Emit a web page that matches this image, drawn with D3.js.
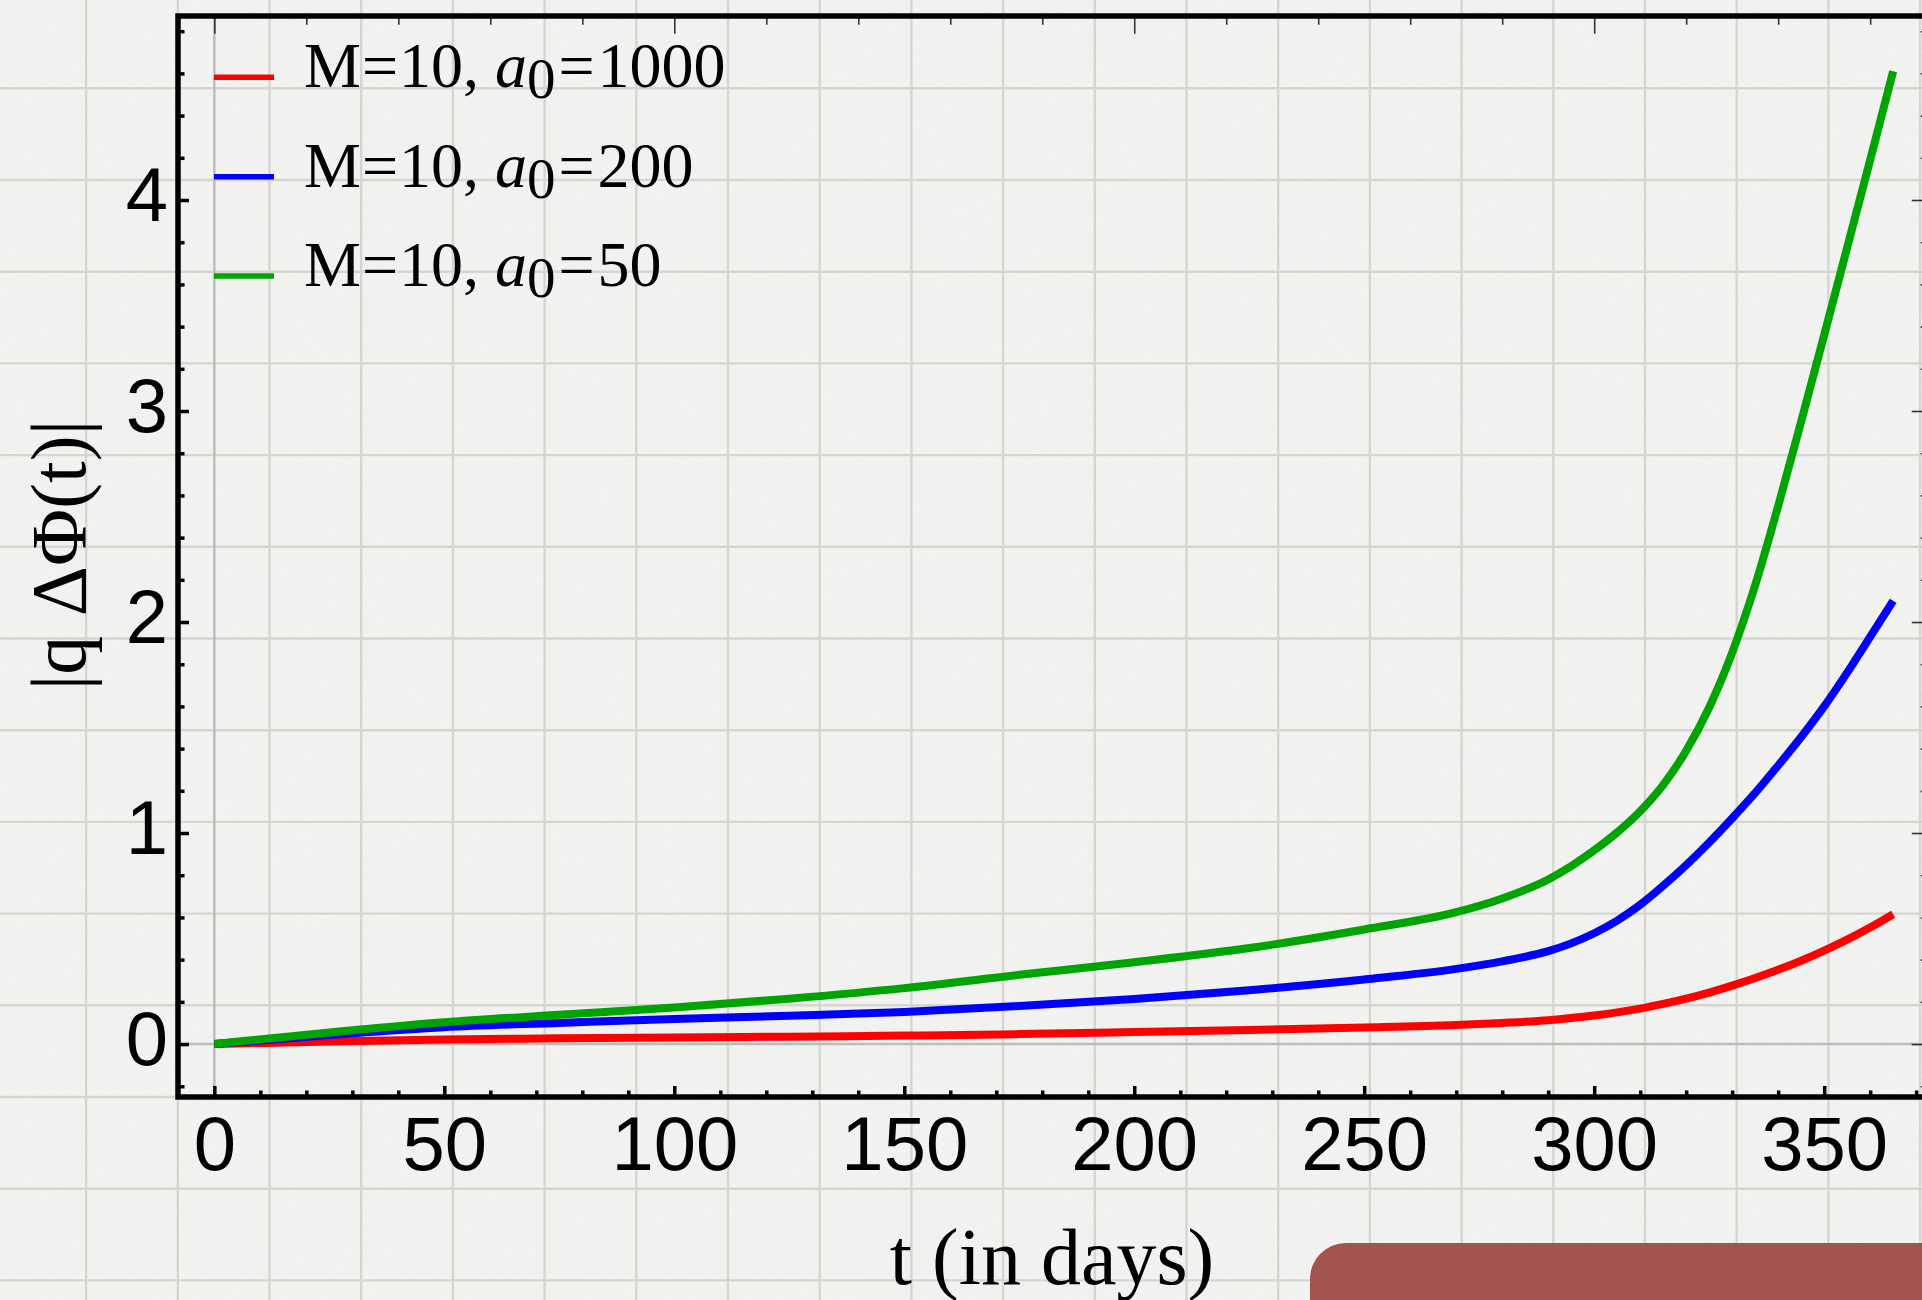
<!DOCTYPE html>
<html>
<head>
<meta charset="utf-8">
<script src="https://cdn.jsdelivr.net/npm/d3@7"></script>
<style>
  html, body { margin: 0; padding: 0; background: #f2f2f0; overflow: hidden; }
  svg { display: block; }
</style>
</head>
<body>
<svg id="chart" width="1922" height="1300"></svg>
<script>
// ---------------- data ----------------
const tDays = [0, 25, 50, 75, 100, 125, 150, 175, 200, 225, 250, 270, 280, 290, 295, 300, 305, 310, 315, 320, 325, 330, 335, 340, 345, 350, 355, 360, 365];

const valuesA1000 = [0, 0.012, 0.021, 0.027, 0.031, 0.035, 0.040, 0.047, 0.057, 0.067, 0.078, 0.090, 0.100, 0.113, 0.123, 0.135, 0.150, 0.168, 0.190, 0.215, 0.244, 0.277, 0.313, 0.352, 0.395, 0.443, 0.495, 0.552, 0.615];
const valuesA200  = [0, 0.043, 0.080, 0.100, 0.119, 0.134, 0.152, 0.180, 0.213, 0.255, 0.306, 0.356, 0.392, 0.440, 0.477, 0.525, 0.585, 0.660, 0.750, 0.848, 0.955, 1.070, 1.190, 1.320, 1.455, 1.600, 1.760, 1.930, 2.100];
const valuesA50   = [0, 0.055, 0.103, 0.139, 0.173, 0.215, 0.265, 0.328, 0.388, 0.455, 0.543, 0.625, 0.690, 0.780, 0.843, 0.918, 1.003, 1.103, 1.228, 1.390, 1.595, 1.855, 2.175, 2.550, 2.950, 3.360, 3.775, 4.190, 4.610];

const seriesNames  = ["a0=1000", "a0=200", "a0=50"];
const seriesM      = ["10", "10", "10"];
const seriesA0     = ["1000", "200", "50"];
const seriesColors = ["#ff0000", "#0000ff", "#00a400"];

const xMajorTicks = [0, 50, 100, 150, 200, 250, 300, 350];
const xTickLabels = ["0", "50", "100", "150", "200", "250", "300", "350"];
const xMinorTicks = [10, 20, 30, 40, 60, 70, 80, 90, 110, 120, 130, 140, 160, 170, 180, 190, 210, 220, 230, 240, 260, 270, 280, 290, 310, 320, 330, 340, 360, 370];
const topMajorTicks = [0, 100, 200, 300];
const topMinorTicks = [20, 40, 60, 80, 120, 140, 160, 180, 220, 240, 260, 280, 320, 340, 360];

const yMajorTicks = [0, 1, 2, 3, 4];
const yTickLabels = ["0", "1", "2", "3", "4"];
const yMinorTicks = [-0.2, 0.2, 0.4, 0.6, 0.8, 1.2, 1.4, 1.6, 1.8, 2.2, 2.4, 2.6, 2.8, 3.2, 3.4, 3.6, 3.8, 4.2, 4.4, 4.6, 4.8];

const xTitle = "t (in days)";
const yTitle = "|q \u0394\u03A6(t)|";

// ---------------- setup ----------------
const W = 1922, H = 1300;
const svg = d3.select("#chart");
const SANS = "'Liberation Sans', Arial, Helvetica, sans-serif";
const SERIF = "'Liberation Serif', 'Times New Roman', Times, serif";

const x = d3.scaleLinear().domain([-7.9, 372.9]).range([178, 1929.5]);
const y = d3.scaleLinear().domain([-0.251, 4.872]).range([1097, 16]);

const [fx0, fx1] = x.range();
const [fy1, fy0] = y.range(); // fy1 bottom, fy0 top

// ---------------- paper background ----------------
const defs = svg.append("defs");
const f = defs.append("filter").attr("id", "paperNoise").attr("x", 0).attr("y", 0).attr("width", "100%").attr("height", "100%");
f.append("feTurbulence").attr("type", "fractalNoise").attr("baseFrequency", 0.75).attr("numOctaves", 2).attr("seed", 7);
f.append("feColorMatrix").attr("type", "matrix")
  .attr("values", "1 0 0 0 0  1 0 0 0 0  1 0 0 0 0  0 0 0 0 0.06");

svg.append("rect").attr("width", W).attr("height", H).attr("fill", "#f5f5f3");
svg.append("rect").attr("width", W).attr("height", H).attr("filter", "url(#paperNoise)");

const cell = 91.7;
const gridX = d3.range(-2, 24).map(k => 177.8 + k * cell).filter(v => v > -5 && v < W + 5);
const gridY = d3.range(0, 16).map(k => -3.4 + k * cell).filter(v => v > -5 && v < H + 5);
const paper = svg.append("g").attr("stroke", "#d5d5d2").attr("stroke-width", 2.4);
paper.selectAll("line.v").data(gridX).join("line").attr("class", "v")
  .attr("x1", d => d).attr("x2", d => d).attr("y1", 0).attr("y2", H);
paper.selectAll("line.h").data(gridY).join("line").attr("class", "h")
  .attr("y1", d => d).attr("y2", d => d).attr("x1", 0).attr("x2", W);

// ---------------- axes lines at zero ----------------
const zeroG = svg.append("g").attr("stroke", "#bcbcba").attr("stroke-width", 2.4);
zeroG.append("line").attr("x1", fx0).attr("x2", fx1).attr("y1", y(0)).attr("y2", y(0));
zeroG.append("line").attr("x1", x(0)).attr("x2", x(0)).attr("y1", fy0).attr("y2", fy1);

// ---------------- curves ----------------
const allSeries = [valuesA1000, valuesA200, valuesA50];
const line = d3.line()
  .x((d, i) => x(tDays[i]))
  .y(d => y(d))
  .curve(d3.curveMonotoneX);

svg.append("g").selectAll("path").data(allSeries).join("path")
  .attr("d", d => line(d))
  .attr("fill", "none")
  .attr("stroke", (d, i) => seriesColors[i])
  .attr("stroke-width", 8)
  .attr("stroke-linecap", "butt")
  .attr("stroke-linejoin", "round");

// ---------------- ticks ----------------
function styleTicks(g, width, color) {
  g.select(".domain").remove();
  g.selectAll(".tick line").attr("stroke", color).attr("stroke-width", width);
}

// bottom
svg.append("g").attr("transform", `translate(0,${fy1})`)
  .call(d3.axisBottom(x).tickValues(xMinorTicks).tickSizeInner(-6.5).tickSizeOuter(0).tickFormat(""))
  .call(g => styleTicks(g, 3.5, "#000"));
const bottomAxis = svg.append("g").attr("transform", `translate(0,${fy1})`)
  .call(d3.axisBottom(x).tickValues(xMajorTicks).tickSizeInner(-11).tickSizeOuter(0).tickPadding(19)
        .tickFormat((d, i) => xTickLabels[i]))
  .call(g => styleTicks(g, 3.5, "#000"));
bottomAxis.selectAll("text")
  .attr("font-family", SANS).attr("font-size", 76).attr("fill", "#000")
  .attr("y", 73).attr("dy", 0);

// left
svg.append("g").attr("transform", `translate(${fx0},0)`)
  .call(d3.axisLeft(y).tickValues(yMinorTicks).tickSizeInner(-6.5).tickSizeOuter(0).tickFormat(""))
  .call(g => styleTicks(g, 3.5, "#000"));
const leftAxis = svg.append("g").attr("transform", `translate(${fx0},0)`)
  .call(d3.axisLeft(y).tickValues(yMajorTicks).tickSizeInner(-11).tickSizeOuter(0).tickPadding(10)
        .tickFormat((d, i) => yTickLabels[i]))
  .call(g => styleTicks(g, 3.5, "#000"));
leftAxis.selectAll("text")
  .attr("font-family", SANS).attr("font-size", 76).attr("fill", "#000")
  .attr("dy", 20);

// top (thin)
svg.append("g").attr("transform", `translate(0,${fy0})`)
  .call(d3.axisTop(x).tickValues(topMinorTicks).tickSizeInner(-8.75).tickSizeOuter(0).tickFormat(""))
  .call(g => styleTicks(g, 1.6, "#333"));
svg.append("g").attr("transform", `translate(0,${fy0})`)
  .call(d3.axisTop(x).tickValues(topMajorTicks).tickSizeInner(-17.75).tickSizeOuter(0).tickFormat(""))
  .call(g => styleTicks(g, 1.6, "#333"));

// right (thin)
svg.append("g").attr("transform", `translate(${fx1},0)`)
  .call(d3.axisRight(y).tickValues(yMinorTicks).tickSizeInner(-8.75).tickSizeOuter(0).tickFormat(""))
  .call(g => styleTicks(g, 1.6, "#333"));
svg.append("g").attr("transform", `translate(${fx1},0)`)
  .call(d3.axisRight(y).tickValues(yMajorTicks).tickSizeInner(-17.75).tickSizeOuter(0).tickFormat(""))
  .call(g => styleTicks(g, 1.6, "#333"));

// ---------------- frame ----------------
svg.append("rect")
  .attr("x", fx0).attr("y", fy0)
  .attr("width", fx1 - fx0).attr("height", fy1 - fy0)
  .attr("fill", "none").attr("stroke", "#000").attr("stroke-width", 5.5);

// ---------------- titles ----------------
svg.append("text")
  .attr("x", 1052).attr("y", 1284)
  .attr("text-anchor", "middle")
  .attr("font-family", SERIF).attr("font-size", 80).attr("fill", "#000")
  .text(xTitle);

svg.append("text")
  .attr("transform", "translate(85,555) rotate(-90)")
  .attr("text-anchor", "middle")
  .attr("font-family", SERIF).attr("font-size", 78).attr("fill", "#000")
  .text(yTitle);

// ---------------- legend ----------------
const legendRowY = [77.3, 176.7, 276];
const legend = svg.append("g");
const rows = legend.selectAll("g").data(seriesNames).join("g")
  .attr("transform", (d, i) => `translate(0,${legendRowY[i]})`);
rows.append("line")
  .attr("x1", 214).attr("x2", 274).attr("y1", 0).attr("y2", 0)
  .attr("stroke", (d, i) => seriesColors[i]).attr("stroke-width", 5.5);
const txt = rows.append("text")
  .attr("x", 304).attr("y", 10)
  .attr("font-family", SERIF).attr("font-size", 64).attr("fill", "#000");
txt.append("tspan").text("M");
txt.append("tspan").attr("dx", 1).text("=");
txt.append("tspan").attr("dx", 1).text((d, i) => `${seriesM[i]}, `);
txt.append("tspan").attr("font-style", "italic").text("a");
txt.append("tspan").attr("font-size", 57).attr("dy", 11).text("0");
txt.append("tspan").attr("dy", -11).attr("dx", 3).text("=");
txt.append("tspan").attr("dx", 3).text((d, i) => seriesA0[i]);

// ---------------- decorative box ----------------
svg.append("rect")
  .attr("x", 1310).attr("y", 1243)
  .attr("width", 700).attr("height", 200)
  .attr("rx", 36).attr("ry", 36)
  .attr("fill", "#a2534d");
</script>
</body>
</html>
